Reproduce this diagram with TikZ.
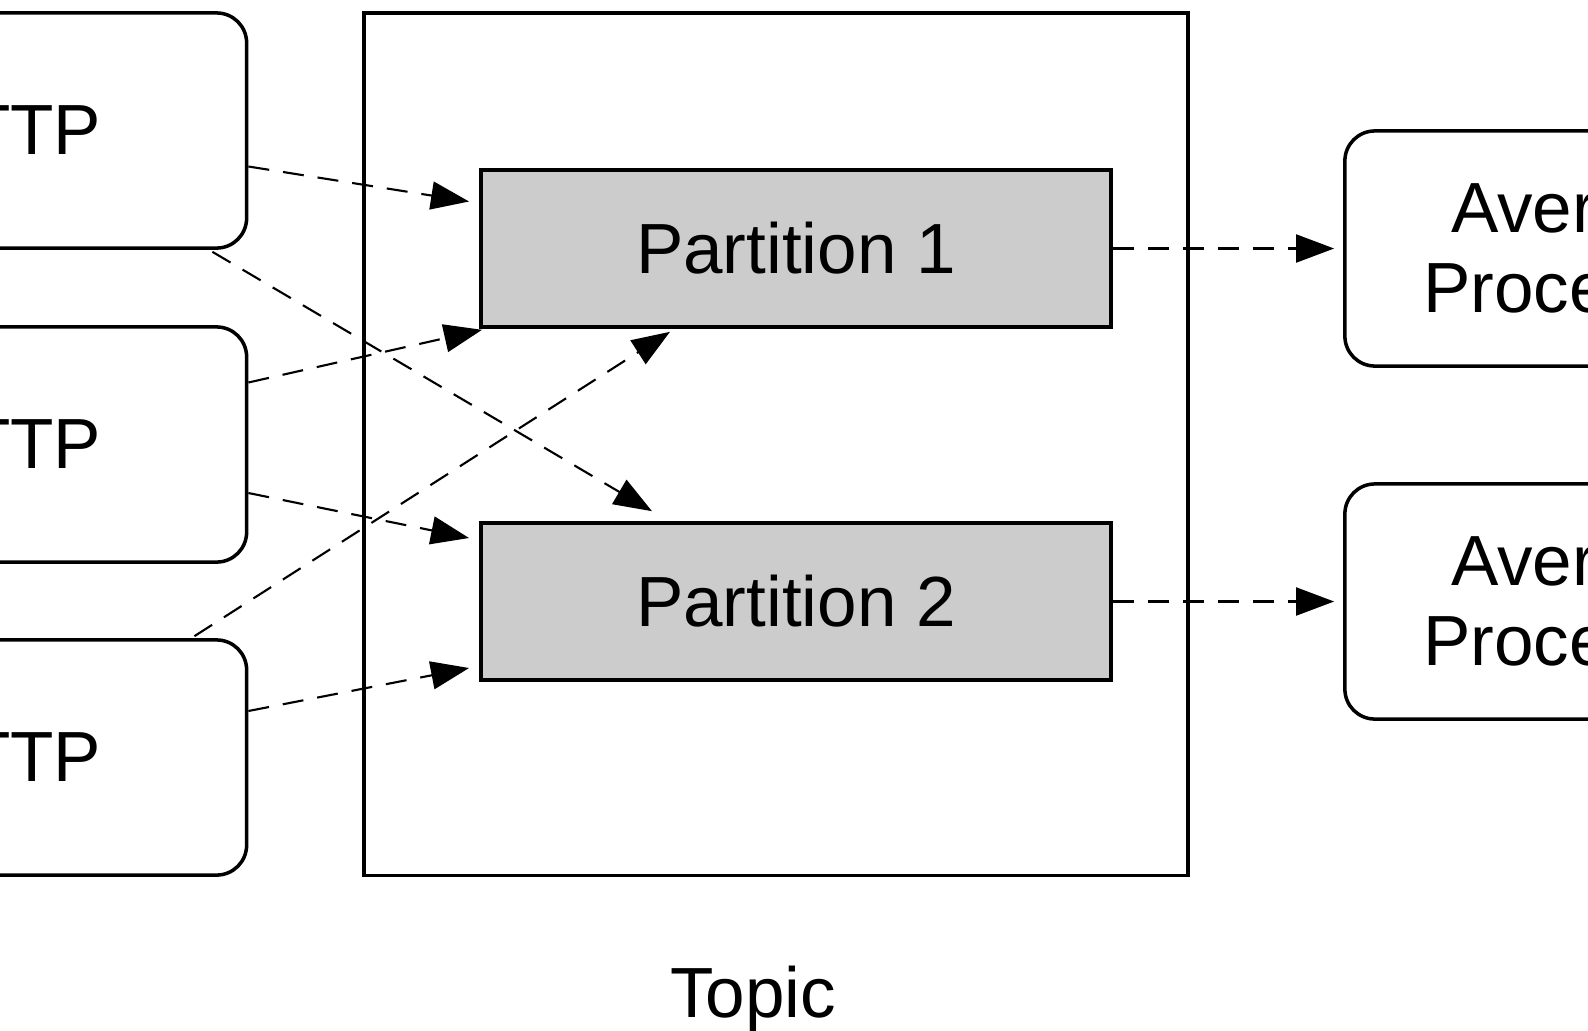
\documentclass[tikz,border=0pt]{standalone}
\usepackage{fontspec}
\setmainfont{Liberation Sans}
\usetikzlibrary{arrows.meta, calc}

\tikzset{
  box/.style={draw, line width=1pt, rounded corners=3mm, minimum width=4.76cm, minimum height=2.35cm, align=center},
  part/.style={draw, line width=1pt, fill=black!20, minimum width=6.3cm, minimum height=1.57cm},
  flow/.style={-{Triangle[length=3.8mm,width=2.8mm]}, dash pattern=on 2.1mm off 1.4mm, line width=0.6pt},
}

\begin{document}
\begin{tikzpicture}[x=0.01cm, y=-0.01cm, font=\fontsize{20.2}{22.8}\selectfont]
\useasboundingbox (0,0) rectangle (1588,1030);
\clip (0,0) rectangle (1588,1030);
\node[draw, line width=1pt, minimum width=8.24cm, minimum height=8.62cm] (topic) at (776,444) {};
\node[part] (p1) at (796,248.5) {Partition 1};
\node[part] (p2) at (796,601.5) {Partition 2};
\foreach \n/\y in {1/130.5, 2/444.5, 3/757.5}
  \node[box] (h\n) at (8.5,\y) {HTTP};
\node[box] (a1) at (1583,248.5) {Average\\Processor};
\node[box] (a2) at (1583,601.5) {Average\\Processor};
\node[anchor=base] (label) at (753,1017) {Topic};

\draw[flow] ($(h1.east)+(0,36)$) -- ($(p1.west)+(-10,-47)$);
\draw[flow] ($(h1.south east)+(-36,2)$) -- ($(p2.north)+(-144,-10)$);
\draw[flow] ($(h2.east)+(0,-62)$) -- ($(p1.south west)+(3,1)$);
\draw[flow] ($(h2.east)+(0,48.5)$) -- ($(p2.west)+(-10,-63.5)$);
\draw[flow] ($(h3.north east)+(-54,-2)$) -- ($(p1.south)+(-126,3)$);
\draw[flow] ($(h3.east)+(0,-46.5)$) -- ($(p2.west)+(-10,66.5)$);
\draw[flow] (p1.east) -- ($(a1.west)+(-9,0)$);
\draw[flow] (p2.east) -- ($(a2.west)+(-9,0)$);
\end{tikzpicture}
\end{document}
